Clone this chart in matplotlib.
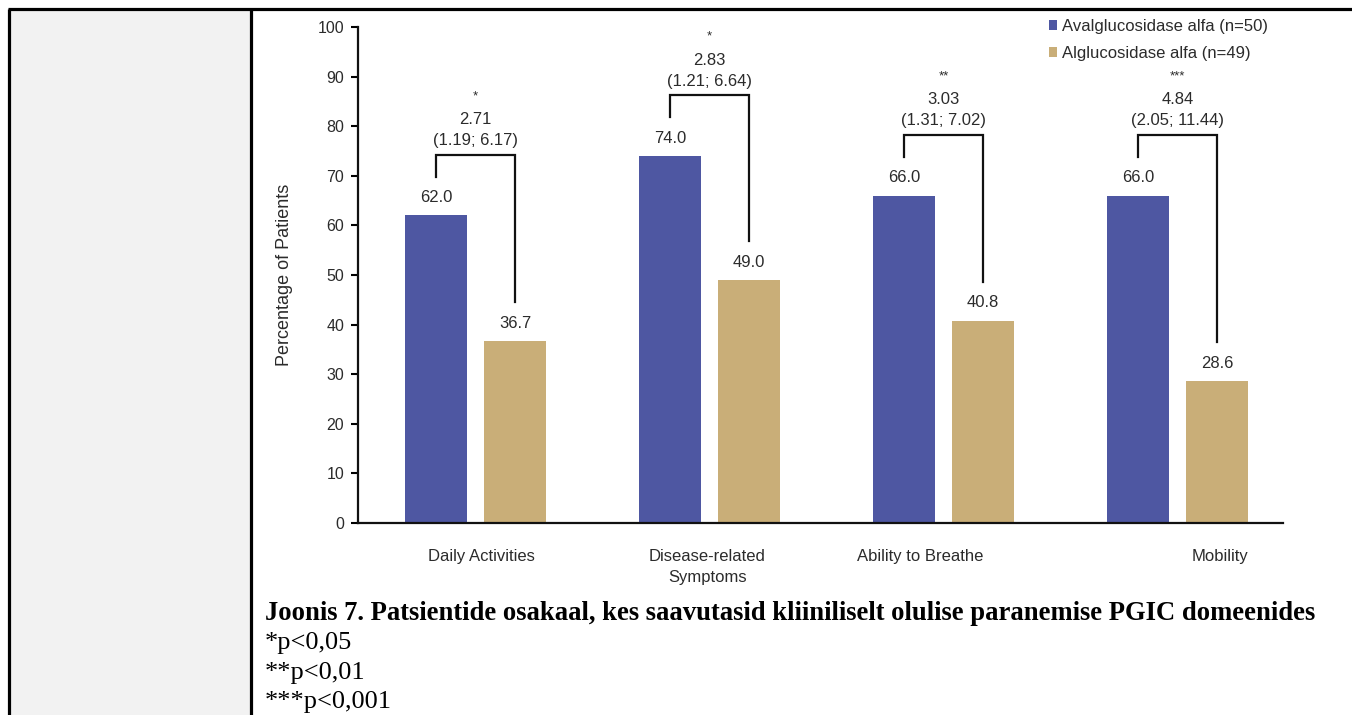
import matplotlib
matplotlib.use("Agg")
import matplotlib.pyplot as plt
from matplotlib.patches import Patch, Rectangle
from matplotlib.lines import Line2D

# ---- data ----
domains = ["Daily Activities", "Disease-related\nSymptoms", "Ability to Breathe", "Mobility"]
avalglucosidase = [62.0, 74.0, 66.0, 66.0]
alglucosidase = [36.7, 49.0, 40.8, 28.6]
odds_ratio = ["2.71", "2.83", "3.03", "4.84"]
conf_int = ["(1.19; 6.17)", "(1.21; 6.64)", "(1.31; 7.02)", "(2.05; 11.44)"]
significance = ["*", "*", "**", "***"]
series_names = ["Avalglucosidase alfa (n=50)", "Alglucosidase alfa (n=49)"]
y_ticks = [0, 10, 20, 30, 40, 50, 60, 70, 80, 90, 100]
caption = "Joonis 7. Patsientide osakaal, kes saavutasid kliiniliselt olulise paranemise PGIC domeenides"
footnotes = ["*p<0,05", "**p<0,01", "***p<0,001"]

# ---- style ----
BLUE = "#4e57a2"
TAN = "#c9ae78"
TXT = "#2b2b2b"
W, H = 1352, 715
bar_w = 0.265
offset = 0.169
label_shift = [0.026, -0.009, -0.10, 0.18]

plt.rcParams["font.family"] = ["Liberation Sans", "DejaVu Sans"]

fig = plt.figure(figsize=(W / 100, H / 100), dpi=100)
fig.patch.set_facecolor("white")

# table cell layout: grey left cell and black borders
fig.add_artist(Rectangle((9 / W, 0), (250 - 9) / W, 1 - 9 / H, transform=fig.transFigure,
                         facecolor="#f2f2f2", edgecolor="none", zorder=0))
for (x0, y0, x1, y1) in [(8, 9, W, 9), (9, 9, 9, H), (251, 9, 251, H)]:
    fig.add_artist(Line2D([x0 / W, x1 / W], [1 - y0 / H, 1 - y1 / H], transform=fig.transFigure,
                          color="black", lw=2.3, solid_capstyle="butt"))

ax = fig.add_axes([358 / W, 192 / H, (1283 - 358) / W, (688 - 192) / H])
ax.set_facecolor("none")

x = list(range(len(domains)))
xb = [i - offset for i in x]
xt = [i + offset for i in x]
ax.bar(xb, avalglucosidase, width=bar_w, color=BLUE, label=series_names[0], zorder=2)
ax.bar(xt, alglucosidase, width=bar_w, color=TAN, label=series_names[1], zorder=2)

for i in x:
    a, b = avalglucosidase[i], alglucosidase[i]
    ax.text(xb[i], a + 3.6, f"{a:.1f}", ha="center", va="center", fontsize=12, color=TXT)
    ax.text(xt[i], b + 3.6, f"{b:.1f}", ha="center", va="center", fontsize=12, color=TXT)
    top = max(a, b) + 12.2
    ax.plot([xb[i], xb[i], xt[i], xt[i]], [a + 7.8, top, top, b + 7.8],
            color="#111111", lw=1.6, zorder=3, solid_joinstyle="miter")
    cx = (xb[i] + xt[i]) / 2
    ax.text(cx, top + 2.9, conf_int[i], ha="center", va="center", fontsize=12, color=TXT)
    ax.text(cx, top + 7.1, odds_ratio[i], ha="center", va="center", fontsize=12, color=TXT)
    ax.text(cx, top + 11.8, significance[i], ha="center", va="center", fontsize=9.5, color=TXT)
    ax.text(i + label_shift[i], -5.3, domains[i], ha="center", va="top", fontsize=12,
            color=TXT, linespacing=1.45)

ax.set_xlim(-0.502, 3.451)
ax.set_ylim(0, 100)
ax.set_yticks(y_ticks)
ax.set_xticks([])
ax.tick_params(axis="y", direction="out", length=5, width=1.5, labelsize=11.5,
               labelcolor=TXT, pad=5)
for s in ["top", "right"]:
    ax.spines[s].set_visible(False)
for s in ["left", "bottom"]:
    ax.spines[s].set_linewidth(1.6)
    ax.spines[s].set_color("#111111")
ax.set_ylabel("Percentage of Patients", fontsize=13, color=TXT)
ax.yaxis.set_label_coords(-0.070, 0.5)

handles = [Patch(facecolor=BLUE, edgecolor="none"), Patch(facecolor=TAN, edgecolor="none")]
fig.legend(handles, series_names, loc="upper left", bbox_to_anchor=(1049 / W, 1 - 19 / H),
           frameon=False, fontsize=12, handlelength=0.5, handleheight=0.5,
           handletextpad=0.3, labelspacing=0.72, borderpad=0, borderaxespad=0,
           labelcolor=TXT)

fig.text(265 / W, 1 - 614 / H, caption, ha="left", va="center", fontsize=19.2,
         fontweight="bold", family="Liberation Serif", color="black")
for k, note in enumerate(footnotes):
    fig.text(265 / W, 1 - (643 + 29.5 * k) / H, note, ha="left", va="center", fontsize=19,
             family="Liberation Serif", color="black")

fig.savefig("out.png", dpi=100, facecolor="white")
